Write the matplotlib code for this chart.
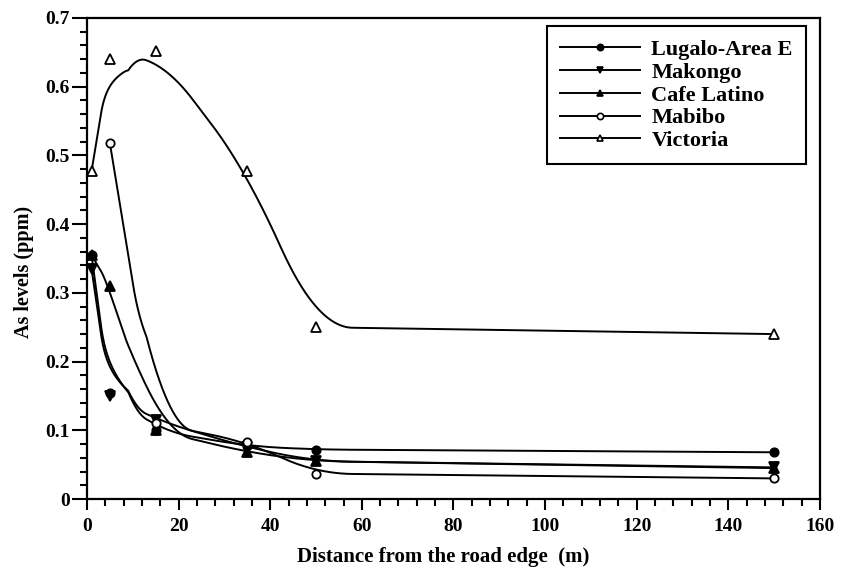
import numpy as np
import matplotlib
matplotlib.use("Agg")
import matplotlib.pyplot as plt
from matplotlib.lines import Line2D
from matplotlib.ticker import MultipleLocator, FuncFormatter

# Data: distance from road edge (m) vs As levels (ppm)

names = ["Lugalo-Area E", "Makongo", "Cafe Latino", "Mabibo", "Victoria"]

dist_lugalo = [1, 5, 15, 35, 50, 150]
as_lugalo = [0.355, 0.155, 0.100, 0.077, 0.072, 0.068]

dist_makongo = [1, 5, 15, 35, 50, 150]
as_makongo = [0.335, 0.150, 0.115, 0.075, 0.055, 0.046]

dist_cafe = [1, 5, 15, 35, 50, 150]
as_cafe = [0.355, 0.310, 0.100, 0.068, 0.055, 0.045]

dist_mabibo = [5, 15, 35, 50, 150]
as_mabibo = [0.518, 0.110, 0.083, 0.037, 0.030]

dist_victoria = [1, 5, 15, 35, 50, 150]
as_victoria = [0.477, 0.640, 0.652, 0.477, 0.250, 0.240]


# smoothed connecting line: running mean (half width h, in metres) of the
# straight-segment line, window shrinking at the two ends
def smooth_line(px, py, h=8.0, step=0.05):
    px = np.asarray(px, float)
    py = np.asarray(py, float)
    gx = np.arange(px[0], px[-1] + step / 2, step)
    gy = np.interp(gx, px, py)
    F = np.concatenate([[0], np.cumsum((gy[1:] + gy[:-1]) / 2 * step)])
    he = np.minimum(h, np.minimum(gx - px[0], px[-1] - gx))
    out = gy.copy()
    ok = he > 1e-6
    out[ok] = (np.interp(gx[ok] + he[ok], gx, F) - np.interp(gx[ok] - he[ok], gx, F)) / (2 * he[ok])
    return gx, out


plt.rcParams['font.family'] = ['Liberation Serif', 'DejaVu Serif']
plt.rcParams['font.weight'] = 'bold'

fig = plt.figure(figsize=(8.41, 5.67), dpi=100)
ax = fig.add_axes([0.1034, 0.1199, 0.8716, 0.8484])

series = [
    (dist_lugalo, as_lugalo, dict(marker='o', mfc='black', ms=6)),
    (dist_makongo, as_makongo, dict(marker='v', mfc='black', ms=6.5)),
    (dist_cafe, as_cafe, dict(marker='^', mfc='black', ms=6.5)),
    (dist_mabibo, as_mabibo, dict(marker='o', mfc='white', ms=6)),
    (dist_victoria, as_victoria, dict(marker='^', mfc='white', ms=6.5)),
]

handles = []
for (xs, ys, mk), name in zip(series, names):
    sx, sy = smooth_line(xs, ys)
    ax.plot(sx, sy, color='black', lw=1.4, zorder=2)
    ax.plot(xs, ys, ls='none', color='black', mec='black', mew=1.3, zorder=3, **mk)
    handles.append(Line2D([], [], color='black', lw=1.4, marker=mk['marker'],
                          mfc=mk['mfc'], mec='black', mew=1.2, ms=mk['ms'] * 0.75))

ax.set_xlim(0, 160)
ax.set_ylim(0, 0.7)
ax.xaxis.set_major_locator(MultipleLocator(20))
ax.xaxis.set_minor_locator(MultipleLocator(4))
ax.yaxis.set_major_locator(MultipleLocator(0.1))
ax.yaxis.set_minor_locator(MultipleLocator(0.02))
ax.yaxis.set_major_formatter(FuncFormatter(lambda v, p: '0' if abs(v) < 1e-9 else '%.1f' % v))

for s in ax.spines.values():
    s.set_linewidth(1.6)
ax.tick_params(which='both', direction='out', width=1.5, labelsize=14, top=False, right=False)
ax.tick_params(axis='x', which='major', length=8, pad=6)
ax.tick_params(axis='y', which='major', length=10.5, pad=2)
ax.tick_params(which='minor', length=5)

ax.set_xlabel('Distance from the road edge  (m)', fontsize=15, fontweight='bold')
ax.set_ylabel('As levels (ppm)', fontsize=14.5, fontweight='bold')
ax.xaxis.set_label_coords(0.486, -0.1)
ax.yaxis.set_label_coords(-0.072, 0.472)

leg = ax.legend(handles, names, loc='upper right', bbox_to_anchor=(0.981, 0.983),
                borderaxespad=0, fancybox=False, framealpha=1, edgecolor='black',
                prop=dict(family='Liberation Serif', weight='bold', size=16),
                handlelength=3.6, labelspacing=0.1, numpoints=1, borderpad=0.6,
                handletextpad=0.5)
leg.get_frame().set_linewidth(1.5)

fig.savefig('out.png', dpi=100)
